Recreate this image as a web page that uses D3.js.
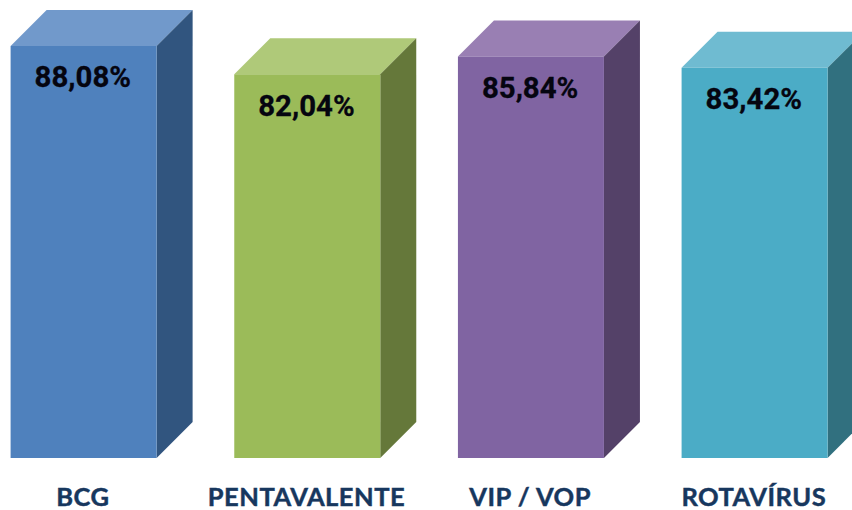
<!DOCTYPE html>
<html><head><meta charset="utf-8">
<script src="https://cdn.jsdelivr.net/npm/d3@7"></script>
<style>html,body{margin:0;padding:0;background:#fff}svg{display:block}</style>
</head><body><svg id="c" width="852" height="510"></svg>
<script>
const categories = ["BCG","PENTAVALENTE","VIP / VOP","ROTAVÍRUS"];
const values = [88.08,82.04,85.84,83.42];
const labels = ["88,08%","82,04%","85,84%","83,42%"];
const frontColors = ["#4f81bd","#9bbb59","#8064a2","#4bacc6"];
const topColors = ["#7199cb","#afc979","#997fb3","#6fbbd1"];
const sideColors = ["#31557f","#65783a","#544168","#31707f"];

const svg = d3.select("#c");
const x = d3.scaleBand().domain(categories).range([10.6,827.6]).paddingInner(0.3472).paddingOuter(0);
const y = d3.scaleLinear().domain([0,88.08]).range([458,46]);
const depth = 36, w = x.bandwidth();
const line = d3.line();

const g = svg.selectAll("g.bar").data(categories).join("g").attr("class","bar");
g.append("path").attr("fill",(d,i)=>topColors[i]).attr("d",(d,i)=>{
  const a=x(d),t=y(values[i]);
  return line([[a,t],[a+depth,t-depth],[a+w+depth,t-depth],[a+w,t]])+"Z";
});
g.append("path").attr("fill",(d,i)=>sideColors[i]).attr("d",(d,i)=>{
  const a=x(d)+w,t=y(values[i]),b=y(0);
  return line([[a,t],[a+depth,t-depth],[a+depth,b-depth],[a,b]])+"Z";
});
g.append("rect").attr("fill",(d,i)=>frontColors[i])
  .attr("x",d=>x(d)).attr("width",w)
  .attr("y",(d,i)=>y(values[i])).attr("height",(d,i)=>y(0)-y(values[i]));
g.append("text").text((d,i)=>labels[i])
  .attr("x",d=>x(d)+w/2-0.8).attr("y",(d,i)=>y(values[i])+41.3)
  .attr("text-anchor","middle").attr("fill","#050510")
  .attr("stroke","#050510").attr("stroke-width",0.3)
  .style("font","700 29.4px Roboto");
g.append("text").text(d=>d)
  .attr("x",d=>x(d)+w/2-0.8).attr("y",505.5)
  .attr("text-anchor","middle").attr("fill","#17375e")
  .attr("stroke","#17375e").attr("stroke-width",0.45)
  .style("font","700 25.5px Lato").style("letter-spacing","0.5px");
</script></body></html>
